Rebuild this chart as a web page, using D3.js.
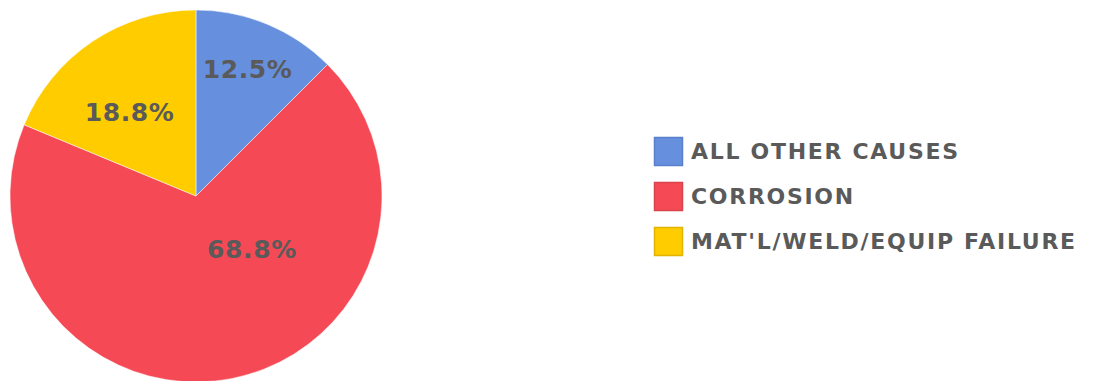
<!DOCTYPE html>
<html>
<head>
<meta charset="utf-8">
<script src="https://cdn.jsdelivr.net/npm/d3@7"></script>
<style>
  html, body { margin: 0; padding: 0; background: #fff; }
  svg { display: block; }
  text { font-family: "DejaVu Sans", Verdana, sans-serif; font-weight: bold; fill: #5a5a5a; }
</style>
</head>
<body>
<svg id="chart" width="1098" height="381"></svg>
<script>
// Incident counts by cause
const causes = ["ALL OTHER CAUSES", "CORROSION", "MAT'L/WELD/EQUIP FAILURE"];
const counts = [2, 11, 3];
const colors = ["#6690de", "#f54a55", "#ffcc00"];
const borders = ["#5a80cc", "#d8434c", "#e0b400"];
// Where each percentage label sits: angle (deg, clockwise from 12 o'clock) and fraction of radius
const labelAngles = [22.1, 133.7, 321.5];
const labelRadii = [0.737, 0.416, 0.574];

const width = 1098, height = 381;
const cx = 196, cy = 196, radius = 186;

const svg = d3.select("#chart");
const total = d3.sum(counts);
const data = causes.map((c, i) => ({ cause: c, value: counts[i], color: colors[i], border: borders[i], i }));

const pie = d3.pie().value(d => d.value).sort(null);
const arc = d3.arc().innerRadius(0).outerRadius(radius);

const g = svg.append("g").attr("transform", `translate(${cx},${cy})`);

g.selectAll("path.slice")
  .data(pie(data))
  .join("path")
  .attr("class", "slice")
  .attr("d", arc)
  .attr("fill", d => d.data.color)
  .attr("stroke", "#ffffff")
  .attr("stroke-opacity", 0.6)
  .attr("stroke-width", 0.8);

const fmt = v => (v / total * 100).toFixed(1) + "%";

g.selectAll("text.pct")
  .data(pie(data))
  .join("text")
  .attr("class", "pct")
  .attr("x", d => {
    const a = labelAngles[d.data.i] * Math.PI / 180;
    return Math.sin(a) * radius * labelRadii[d.data.i];
  })
  .attr("y", d => {
    const a = labelAngles[d.data.i] * Math.PI / 180;
    return -Math.cos(a) * radius * labelRadii[d.data.i];
  })
  .attr("text-anchor", "middle")
  .attr("dominant-baseline", "central")
  .style("font-size", "25px")
  .style("letter-spacing", "0.6px")
  .text(d => fmt(d.data.value));

// Legend
const legendX = 654, legendY = 151, rowGap = 45, box = 28;
const legend = svg.append("g");
const rows = legend.selectAll("g.row")
  .data(data)
  .join("g")
  .attr("class", "row")
  .attr("transform", (d, i) => `translate(${legendX},${legendY + i * rowGap})`);

rows.append("rect")
  .attr("x", 0.5)
  .attr("y", -box / 2 + 0.5)
  .attr("width", box)
  .attr("height", box)
  .attr("fill", d => d.color)
  .attr("stroke", d => d.border)
  .attr("stroke-width", 1.5);

rows.append("text")
  .attr("x", 37)
  .attr("y", 0)
  .attr("dominant-baseline", "central")
  .style("font-size", "22px")
  .style("letter-spacing", "1.7px")
  .text(d => d.cause);
</script>
</body>
</html>
